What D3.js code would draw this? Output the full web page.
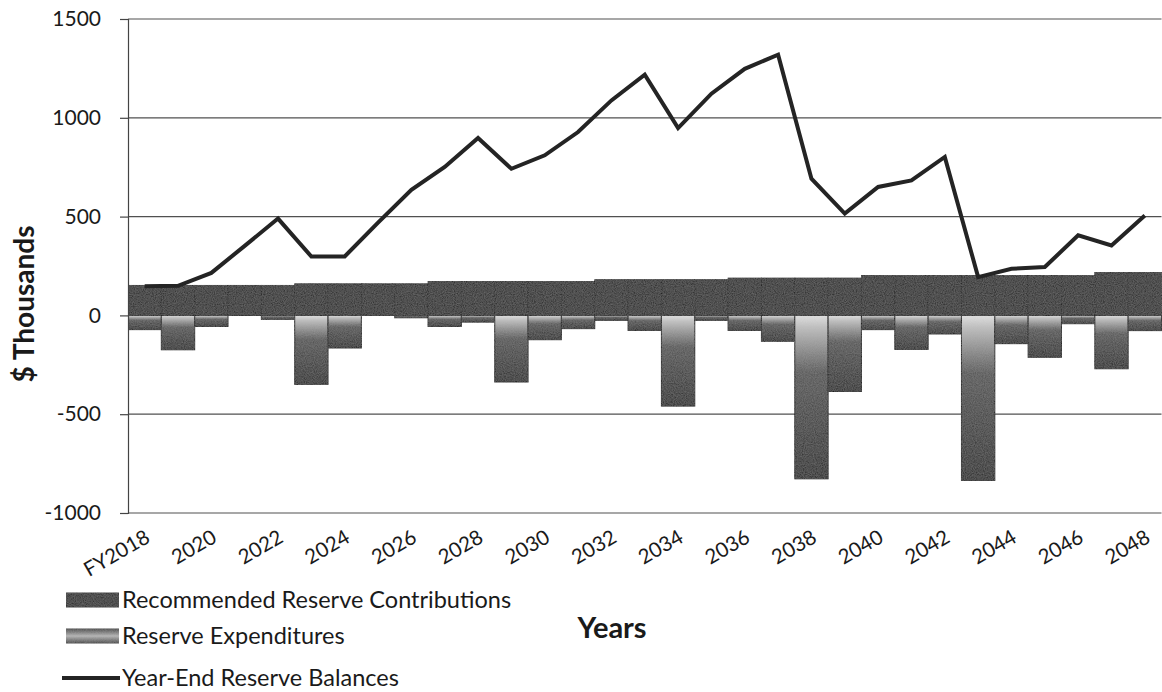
<!DOCTYPE html>
<html>
<head>
<meta charset="utf-8">
<script src="https://cdn.jsdelivr.net/npm/d3@7"></script>
<style>
  html, body { margin: 0; padding: 0; background: #ffffff; }
  svg { display: block; font-family: Lato, "Open Sans", sans-serif; }
</style>
</head>
<body>
<svg id="chart" width="1162" height="692"></svg>
<script>
// ---------- data ----------
const years = ["FY2018","2019","2020","2021","2022","2023","2024","2025","2026","2027",
  "2028","2029","2030","2031","2032","2033","2034","2035","2036","2037",
  "2038","2039","2040","2041","2042","2043","2044","2045","2046","2047","2048"];

const contributions = [152,152,152,152,152,160,160,160,160,172,
  172,172,172,172,181,181,181,181,189,189,
  189,189,202,202,202,202,202,202,202,219,219];

const expenditures = [-72,-174,-56,0,-20,-349,-165,0,-12,-56,
  -34,-337,-123,-67,-25,-76,-459,-25,-76,-131,
  -827,-385,-72,-172,-94,-838,-143,-212,-42,-270,-77];

const balances = [148,150,215,352,490,298,298,470,635,751,
  898,742,810,928,1088,1218,948,1122,1248,1319,
  692,515,650,683,802,194,236,245,405,354,506];

const yTicks = [-1000,-500,0,500,1000,1500];
const xTickLabels = ["FY2018","2020","2022","2024","2026","2028","2030","2032","2034",
  "2036","2038","2040","2042","2044","2046","2048"];

const seriesNames = ["Recommended Reserve Contributions","Reserve Expenditures","Year-End Reserve Balances"];
const yTitle = "$ Thousands";
const xTitle = "Years";

// ---------- setup ----------
const svg = d3.select("#chart");
const plot = {left: 128, right: 1161.5, top: 19, bottom: 513};

const x = d3.scaleBand().domain(years).range([plot.left, plot.right]).padding(0);
const y = d3.scaleLinear().domain([-1000, 1500]).range([plot.bottom, plot.top]);

const defs = svg.append("defs");
const grad = defs.append("linearGradient").attr("id","expGrad")
  .attr("x1",0).attr("y1",0).attr("x2",0).attr("y2",1);
[[0,"#e2e2e2"],[0.07,"#c0c0c0"],[0.35,"#5a5a5a"],[1,"#323232"]].forEach(([o,c]) =>
  grad.append("stop").attr("offset",o).attr("stop-color",c));

const legGrad = defs.append("linearGradient").attr("id","legGrad")
  .attr("x1",0).attr("y1",0).attr("x2",0).attr("y2",1);
[[0,"#444"],[0.5,"#b5b5b5"],[1,"#444"]].forEach(([o,c]) =>
  legGrad.append("stop").attr("offset",o).attr("stop-color",c));

// grain filter to mimic the scanned texture
const f = defs.append("filter").attr("id","grain").attr("x",0).attr("y",0).attr("width",1).attr("height",1);
f.append("feTurbulence").attr("type","fractalNoise").attr("baseFrequency",0.9).attr("numOctaves",2).attr("seed",3).attr("result","n");
f.append("feColorMatrix").attr("in","n").attr("type","matrix")
  .attr("values","0 0 0 0 0.5  0 0 0 0 0.5  0 0 0 0 0.5  0 0 0 0.3 -0.05").attr("result","nm");
f.append("feComposite").attr("in","nm").attr("in2","SourceGraphic").attr("operator","in").attr("result","nc");
f.append("feMerge").call(m => { m.append("feMergeNode").attr("in","SourceGraphic"); m.append("feMergeNode").attr("in","nc"); });

// ---------- gridlines ----------
svg.append("g").selectAll("line").data(yTicks).join("line")
  .attr("x1", plot.left).attr("x2", plot.right)
  .attr("y1", d => y(d)).attr("y2", d => y(d))
  .attr("stroke", "#505050").attr("stroke-width", 1.2);

// ---------- bars ----------
svg.append("g").attr("filter","url(#grain)").selectAll("rect").data(years).join("rect")
  .attr("x", d => x(d))
  .attr("width", x.bandwidth())
  .attr("y", (d,i) => y(contributions[i]))
  .attr("height", (d,i) => y(0) - y(contributions[i]))
  .attr("fill", "#343434")
  .attr("stroke", "#1e1e1e").attr("stroke-width", 0.8);

svg.append("g").attr("filter","url(#grain)").selectAll("rect").data(years.filter((d,i)=>expenditures[i]!==0)).join("rect")
  .attr("x", d => x(d))
  .attr("width", x.bandwidth())
  .attr("y", y(0))
  .attr("height", d => y(expenditures[years.indexOf(d)]) - y(0))
  .attr("fill", "url(#expGrad)")
  .attr("stroke", "#1e1e1e").attr("stroke-width", 1);

// ---------- y axis ----------
const yAxis = svg.append("g").attr("transform", `translate(${plot.left},0)`)
  .call(d3.axisLeft(y).tickValues(yTicks).tickFormat(d => String(d)).tickSize(8).tickPadding(19));
yAxis.select(".domain").attr("stroke","#444").attr("stroke-width",1.2);
yAxis.selectAll(".tick line").attr("stroke","#444").attr("stroke-width",1.2);
yAxis.selectAll("text").attr("font-size", 21).attr("fill","#1a1a1a")
  .attr("font-family","Lato, sans-serif");

// ---------- line ----------
const line = d3.line()
  .x((d,i) => x(years[i]) + x.bandwidth()/2)
  .y(d => y(d));
svg.append("path").datum(balances)
  .attr("d", line)
  .attr("fill","none").attr("stroke","#242424").attr("stroke-width",4)
  .attr("stroke-linejoin","miter");

// ---------- x tick labels ----------
svg.append("g").selectAll("text").data(xTickLabels).join("text")
  .attr("transform", d => `translate(${x(d) + x.bandwidth()/2 + 3},${535}) rotate(-30)`)
  .attr("text-anchor","end")
  .attr("dy","0.35em")
  .attr("font-size", 20.5).attr("fill","#1a1a1a")
  .text(d => d);

// ---------- axis titles ----------
svg.append("text")
  .attr("transform", "translate(34,304) rotate(-90)")
  .attr("text-anchor","middle")
  .attr("font-size", 28).attr("font-weight","bold").attr("fill","#1a1a1a")
  .text(yTitle);

svg.append("text")
  .attr("x", 612).attr("y", 638)
  .attr("text-anchor","middle")
  .attr("font-size", 29).attr("font-weight","bold").attr("fill","#1a1a1a")
  .text(xTitle);

// ---------- legend ----------
const leg = svg.append("g");
const rows = [
  {name: seriesNames[0], y: 600, type: "bar", fill: "#343434"},
  {name: seriesNames[1], y: 636, type: "bar", fill: "url(#legGrad)"},
  {name: seriesNames[2], y: 678, type: "line"}
];
rows.forEach(r => {
  if (r.type === "bar") {
    leg.append("rect").attr("x", 66).attr("y", r.y - 7.5).attr("width", 53).attr("height", 15)
      .attr("fill", r.fill).attr("filter","url(#grain)");
  } else {
    leg.append("line").attr("x1", 62).attr("x2", 120).attr("y1", r.y).attr("y2", r.y)
      .attr("stroke","#242424").attr("stroke-width",4);
  }
  leg.append("text").attr("x", 122).attr("y", r.y).attr("dy","0.35em")
    .attr("font-size", 23.5).attr("fill","#1a1a1a").text(r.name);
});
</script>
</body>
</html>
